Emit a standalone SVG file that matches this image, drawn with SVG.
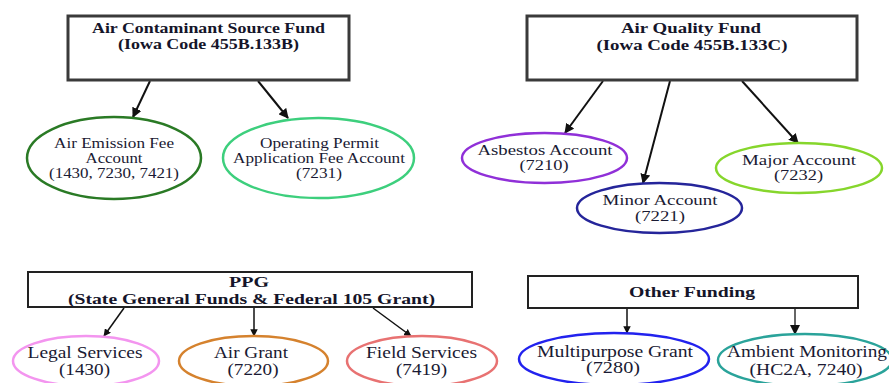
<svg xmlns="http://www.w3.org/2000/svg" width="889" height="383" viewBox="0 0 889 383">
<style>
.box{fill:#fff;stroke:#3a3a3a;stroke-width:3}
.box2{fill:#fff;stroke:#222;stroke-width:2}
.ell{fill:#fff;stroke-width:2.5}
.h{font-family:"Liberation Serif","DejaVu Serif",serif;font-weight:bold;fill:#15152a;text-anchor:middle}
.t{font-family:"Liberation Serif","DejaVu Serif",serif;fill:#1a1a33;text-anchor:middle}
.c{stroke:#111;stroke-width:2;fill:none;marker-end:url(#ah)}
</style>
<defs>
<marker id="ah" viewBox="0 0 10 10" refX="9" refY="5" markerWidth="5" markerHeight="5" orient="auto" markerUnits="strokeWidth">
<path d="M0,0 L10,5 L0,10 z" fill="#111"/>
</marker>
</defs>
<rect width="889" height="383" fill="#fff"/>
<g id="connectors">
<line class="c" x1="150" y1="81" x2="133" y2="117"/>
<line class="c" x1="258" y1="81" x2="288" y2="118"/>
<line class="c" x1="603" y1="81" x2="565" y2="133"/>
<line class="c" x1="670" y1="81" x2="643" y2="183"/>
<line class="c" x1="742" y1="81" x2="798" y2="143"/>
<line class="c" x1="124" y1="308" x2="104" y2="336" style="stroke-width:1.5"/>
<line class="c" x1="254" y1="308" x2="254" y2="336" style="stroke-width:1.5"/>
<line class="c" x1="373" y1="308" x2="411" y2="336" style="stroke-width:1.5"/>
<line class="c" x1="627" y1="309" x2="627" y2="333" style="stroke-width:1.5"/>
<line class="c" x1="795" y1="309" x2="795" y2="334" style="stroke:#666;stroke-width:2"/>
</g>
<g id="acsf">
<rect class="box" x="68" y="16" width="281" height="64"/>
<text class="h" font-size="14" x="208.5" y="33" textLength="233" lengthAdjust="spacingAndGlyphs">Air Contaminant Source Fund</text>
<text class="h" font-size="14" x="208.5" y="49" textLength="181" lengthAdjust="spacingAndGlyphs">(Iowa Code 455B.133B)</text>
</g>
<g id="aef">
<ellipse class="ell" stroke="#2a7a25" cx="114" cy="158" rx="87" ry="41"/>
<text class="t" font-size="14" x="114" y="148" textLength="120" lengthAdjust="spacingAndGlyphs">Air Emission Fee</text>
<text class="t" font-size="14" x="114" y="163" textLength="57" lengthAdjust="spacingAndGlyphs">Account</text>
<text class="t" font-size="14" x="114" y="178" textLength="130" lengthAdjust="spacingAndGlyphs">(1430, 7230, 7421)</text>
</g>
<g id="opaf">
<ellipse class="ell" stroke="#3dcf7d" cx="318.5" cy="158" rx="95.5" ry="40"/>
<text class="t" font-size="14" x="319.5" y="148" textLength="119" lengthAdjust="spacingAndGlyphs">Operating Permit</text>
<text class="t" font-size="14" x="319" y="163" textLength="172" lengthAdjust="spacingAndGlyphs">Application Fee Account</text>
<text class="t" font-size="14" x="319" y="178" textLength="46" lengthAdjust="spacingAndGlyphs">(7231)</text>
</g>
<g id="aqf">
<rect class="box" x="527" y="16" width="330" height="64"/>
<text class="h" font-size="14" x="691" y="33" textLength="140" lengthAdjust="spacingAndGlyphs">Air Quality Fund</text>
<text class="h" font-size="14" x="692" y="50" textLength="191" lengthAdjust="spacingAndGlyphs">(Iowa Code 455B.133C)</text>
</g>
<g id="asb">
<ellipse class="ell" stroke="#9030d8" cx="544.5" cy="158" rx="82.5" ry="25"/>
<text class="t" font-size="14" x="545" y="155" textLength="135" lengthAdjust="spacingAndGlyphs">Asbestos Account</text>
<text class="t" font-size="14" x="544" y="170" textLength="49" lengthAdjust="spacingAndGlyphs">(7210)</text>
</g>
<g id="minor">
<ellipse class="ell" stroke="#25259a" cx="659.5" cy="208" rx="82.5" ry="25"/>
<text class="t" font-size="14" x="660" y="205" textLength="115" lengthAdjust="spacingAndGlyphs">Minor Account</text>
<text class="t" font-size="14" x="660" y="221" textLength="50" lengthAdjust="spacingAndGlyphs">(7221)</text>
</g>
<g id="major">
<ellipse class="ell" stroke="#86d62c" cx="799" cy="168" rx="83" ry="25"/>
<text class="t" font-size="14" x="799" y="165" textLength="114" lengthAdjust="spacingAndGlyphs">Major Account</text>
<text class="t" font-size="14" x="798.5" y="180" textLength="49" lengthAdjust="spacingAndGlyphs">(7232)</text>
</g>
<g id="ppg">
<rect class="box2" x="28" y="272" width="444" height="35"/>
<text class="h" font-size="15" x="249" y="287" textLength="40" lengthAdjust="spacingAndGlyphs">PPG</text>
<text class="h" font-size="15" x="251.5" y="304" textLength="367" lengthAdjust="spacingAndGlyphs">(State General Funds &amp; Federal 105 Grant)</text>
</g>
<g id="legal">
<ellipse class="ell" stroke="#f395ef" cx="86" cy="361" rx="73" ry="25"/>
<text class="t" font-size="16" x="85" y="358" textLength="115" lengthAdjust="spacingAndGlyphs">Legal Services</text>
<text class="t" font-size="16" x="84.5" y="375" textLength="51" lengthAdjust="spacingAndGlyphs">(1430)</text>
</g>
<g id="airgrant">
<ellipse class="ell" stroke="#d5822e" cx="253.5" cy="361" rx="74.5" ry="25"/>
<text class="t" font-size="16" x="251" y="358" textLength="74" lengthAdjust="spacingAndGlyphs">Air Grant</text>
<text class="t" font-size="16" x="253" y="375" textLength="51" lengthAdjust="spacingAndGlyphs">(7220)</text>
</g>
<g id="field">
<ellipse class="ell" stroke="#e87272" cx="422" cy="361" rx="75" ry="25"/>
<text class="t" font-size="16" x="421.5" y="358" textLength="111" lengthAdjust="spacingAndGlyphs">Field Services</text>
<text class="t" font-size="16" x="421.5" y="375" textLength="51" lengthAdjust="spacingAndGlyphs">(7419)</text>
</g>
<g id="other">
<rect class="box2" x="528" y="276" width="330" height="32"/>
<text class="h" font-size="15" x="692" y="297" textLength="126" lengthAdjust="spacingAndGlyphs">Other Funding</text>
</g>
<g id="multi">
<ellipse class="ell" stroke="#2222ee" cx="614" cy="359" rx="95" ry="26"/>
<text class="t" font-size="16" x="615" y="357" textLength="156" lengthAdjust="spacingAndGlyphs">Multipurpose Grant</text>
<text class="t" font-size="16" x="613" y="373" textLength="54" lengthAdjust="spacingAndGlyphs">(7280)</text>
</g>
<g id="ambient">
<ellipse class="ell" stroke="#2aa39a" cx="805" cy="360" rx="87" ry="26"/>
<text class="t" font-size="16" x="807" y="357" textLength="160" lengthAdjust="spacingAndGlyphs">Ambient Monitoring</text>
<text class="t" font-size="16" x="806" y="375" textLength="113" lengthAdjust="spacingAndGlyphs">(HC2A, 7240)</text>
</g>
</svg>
